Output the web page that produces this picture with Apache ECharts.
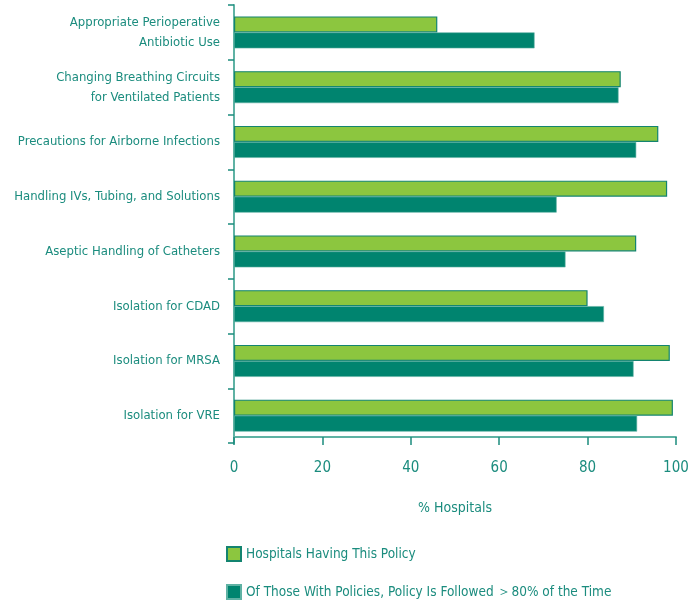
<!DOCTYPE html>
<html>
<head>
<meta charset="utf-8">
<script src="https://cdn.jsdelivr.net/npm/echarts@6/dist/echarts.min.js"></script>
<style>
  html, body { margin: 0; padding: 0; background: #ffffff; }
  #chart { width: 690px; height: 602px; }
</style>
</head>
<body>
<div id="chart"></div>
<script>
// Infection-control policies: share of hospitals with each policy,
// and share of those where the policy is followed >80% of the time.
const categories = [
  'Appropriate Perioperative\nAntibiotic Use',
  'Changing Breathing Circuits\nfor Ventilated Patients',
  'Precautions for Airborne Infections',
  'Handling IVs, Tubing, and Solutions',
  'Aseptic Handling of Catheters',
  'Isolation for CDAD',
  'Isolation for MRSA',
  'Isolation for VRE'
];
const havingPolicy = [46, 87.5, 96, 98, 91, 80, 98.6, 99.3];
const policyFollowed = [68, 87, 91, 73, 75, 83.7, 90.4, 91.2];
const xTicks = [0, 20, 40, 60, 80, 100];

const seriesNames = ['Hospitals Having This Policy', 'Of Those With Policies, Policy Is Followed \uFF1E80% of the Time'];

const FONT = "'Liberation Sans Narrow', 'DejaVu Sans Condensed', 'Roboto', sans-serif";
const TEXT = '#1b8c7e';
const GREEN = '#8cc63f';
const TEAL = '#00846f';

const chart = echarts.init(document.getElementById('chart'), null, { renderer: 'canvas' });

function legendFor(name, top) {
  return {
    orient: 'vertical',
    left: 226,
    top: top,
    padding: 0,
    itemWidth: 14,
    itemHeight: 14,
    itemGap: 0,
    icon: 'rect',
    textStyle: { fontFamily: FONT, fontSize: 13.5, color: TEXT },
    data: [name]
  };
}

chart.setOption({
  animation: false,
  textStyle: { fontFamily: FONT, color: TEXT },
  grid: { left: 234, width: 442, top: 5, height: 438, containLabel: false, outerBoundsMode: 'none' },
  legend: [legendFor(seriesNames[0], 546), legendFor(seriesNames[1], 584)],
  xAxis: {
    type: 'value',
    min: 0,
    max: 100,
    interval: 20,
    offset: -6,
    axisLine: { show: true, lineStyle: { color: '#5fb2a4', width: 2 } },
    axisTick: { show: true, length: 8, lineStyle: { color: '#1b8c7e', width: 1.5 } },
    splitLine: { show: false },
    axisLabel: {
      margin: 24,
      fontFamily: FONT, fontSize: 15, color: TEXT,
      formatter: v => (xTicks.indexOf(v) >= 0 ? String(v) : '')
    },
    name: '% Hospitals',
    nameLocation: 'middle',
    nameGap: 64,
    nameTextStyle: { fontFamily: FONT, fontSize: 14, color: TEXT }
  },
  yAxis: {
    type: 'category',
    inverse: true,
    data: categories,
    axisLine: { show: true, lineStyle: { color: '#5fb2a4', width: 2 } },
    axisTick: { show: true, length: 6, lineStyle: { color: '#1b8c7e', width: 1.5 } },
    axisLabel: {
      margin: 14,
      fontFamily: FONT, fontSize: 13, color: TEXT, lineHeight: 20, align: 'right'
    }
  },
  series: [
    {
      name: seriesNames[0],
      type: 'bar',
      data: havingPolicy,
      barWidth: 16,
      barGap: '0%',
      itemStyle: { color: GREEN, borderColor: '#138470', borderWidth: 1.2 }
    },
    {
      name: seriesNames[1],
      type: 'bar',
      data: policyFollowed,
      barWidth: 16,
      itemStyle: { color: TEAL, borderColor: '#5fb2a4', borderWidth: 0.6 }
    }
  ]
});
</script>
</body>
</html>
